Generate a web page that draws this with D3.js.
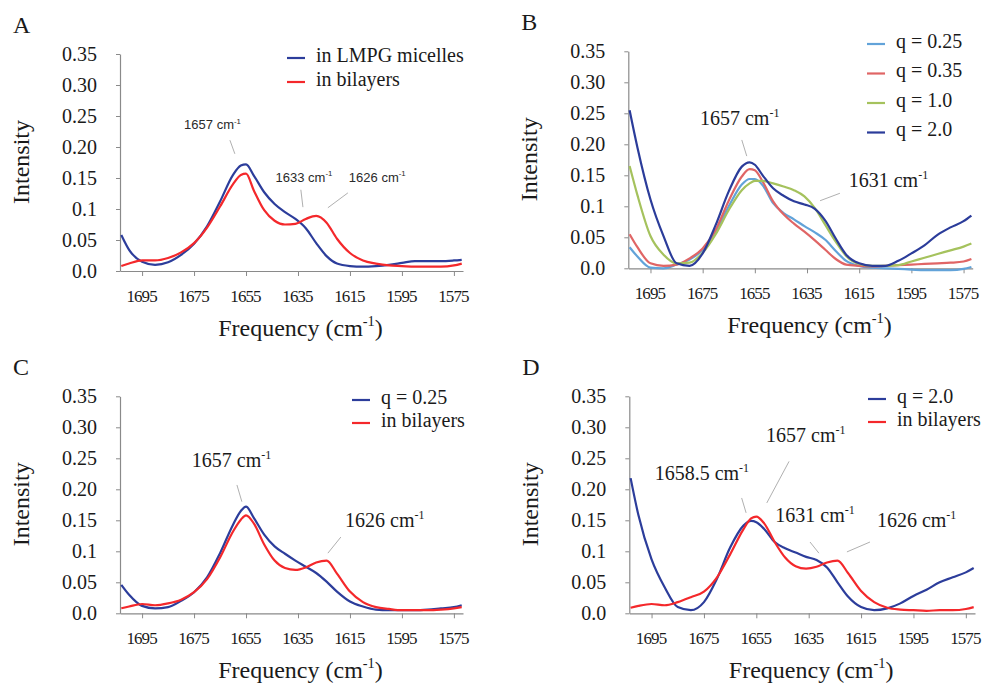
<!DOCTYPE html>
<html>
<head>
<meta charset="utf-8">
<script src="https://cdn.jsdelivr.net/npm/d3@7"></script>
<style>
  body { margin: 0; background: #fff; }
  svg { display: block; }
  svg text { font-family: 'Liberation Serif'; fill: #1a1a1a; }
  svg text.sans { font-family: 'Liberation Sans'; fill: #2a2a2a; }
  .axis path, .axis line { stroke: #8a8a8a; }
</style>
</head>
<body>
<svg width="983" height="685"></svg>
<script>
'use strict';

// wavenumber grid (cm-1) shared by all traces
const wavenumbers = [1703, 1700, 1695, 1690, 1685, 1680, 1675, 1670, 1665, 1660, 1657, 1655, 1652, 1648, 1644, 1640,
  1636, 1632, 1628, 1624, 1620, 1615, 1610, 1605, 1600, 1595, 1590, 1585, 1580, 1575, 1572];

// panel A
const a_micelles = [0.058, 0.034, 0.015, 0.010, 0.014, 0.026, 0.044, 0.072, 0.112, 0.155, 0.170, 0.172, 0.154, 0.127, 0.108, 0.095,
  0.084, 0.069, 0.045, 0.024, 0.012, 0.008, 0.007, 0.008, 0.010, 0.013, 0.016, 0.016, 0.016, 0.017, 0.018];
const a_bilayers = [0.008, 0.012, 0.017, 0.017, 0.021, 0.030, 0.045, 0.070, 0.104, 0.140, 0.155, 0.157, 0.130, 0.098, 0.081, 0.075,
  0.076, 0.084, 0.089, 0.078, 0.052, 0.029, 0.017, 0.012, 0.009, 0.008, 0.007, 0.007, 0.007, 0.009, 0.012];

// panel B
const b_q025 = [0.034, 0.019, 0.001, 0.000, 0.006, 0.014, 0.030, 0.060, 0.100, 0.135, 0.144, 0.144, 0.134, 0.105, 0.089, 0.079,
  0.068, 0.058, 0.046, 0.028, 0.012, 0.004, 0.001, 0.000, -0.001, -0.002, -0.003, -0.003, -0.003, -0.001, 0.002];
const b_q035 = [0.055, 0.034, 0.008, 0.004, 0.006, 0.016, 0.032, 0.062, 0.109, 0.148, 0.160, 0.158, 0.140, 0.108, 0.087, 0.072,
  0.059, 0.045, 0.030, 0.015, 0.006, 0.004, 0.003, 0.004, 0.005, 0.006, 0.007, 0.008, 0.009, 0.011, 0.015];
const b_q10 = [0.165, 0.118, 0.052, 0.022, 0.008, 0.009, 0.025, 0.055, 0.094, 0.126, 0.137, 0.141, 0.141, 0.137, 0.132, 0.126,
  0.116, 0.097, 0.070, 0.043, 0.020, 0.007, 0.004, 0.004, 0.005, 0.011, 0.017, 0.023, 0.029, 0.035, 0.040];
const b_q20 = [0.255, 0.195, 0.111, 0.052, 0.008, 0.004, 0.024, 0.070, 0.124, 0.164, 0.171, 0.167, 0.150, 0.129, 0.117, 0.108,
  0.103, 0.096, 0.077, 0.048, 0.022, 0.008, 0.004, 0.004, 0.012, 0.024, 0.037, 0.054, 0.066, 0.076, 0.085];

// panel C
const c_q025 = [0.046, 0.030, 0.012, 0.008, 0.010, 0.020, 0.034, 0.058, 0.097, 0.143, 0.165, 0.172, 0.154, 0.127, 0.108, 0.096,
  0.085, 0.075, 0.065, 0.051, 0.035, 0.019, 0.011, 0.006, 0.005, 0.005, 0.005, 0.006, 0.008, 0.010, 0.013];
const c_bilayers = [0.008, 0.011, 0.015, 0.013, 0.016, 0.022, 0.034, 0.055, 0.090, 0.132, 0.151, 0.158, 0.145, 0.111, 0.085, 0.073,
  0.070, 0.074, 0.082, 0.085, 0.064, 0.035, 0.018, 0.010, 0.007, 0.005, 0.005, 0.005, 0.006, 0.008, 0.010];

// panel D
const d_q20 = [0.218, 0.158, 0.087, 0.042, 0.010, 0.005, 0.018, 0.056, 0.106, 0.141, 0.149, 0.147, 0.136, 0.115, 0.105, 0.098,
  0.091, 0.086, 0.074, 0.050, 0.027, 0.010, 0.005, 0.008, 0.016, 0.028, 0.038, 0.050, 0.058, 0.066, 0.073];
const d_bilayers = [0.009, 0.012, 0.015, 0.013, 0.018, 0.026, 0.035, 0.058, 0.095, 0.135, 0.153, 0.156, 0.145, 0.115, 0.090, 0.076,
  0.072, 0.075, 0.082, 0.085, 0.065, 0.036, 0.018, 0.009, 0.006, 0.005, 0.004, 0.005, 0.005, 0.007, 0.010];

// axes
const x_ticks = [1695, 1675, 1655, 1635, 1615, 1595, 1575];
const y_ticks = [0, 0.05, 0.1, 0.15, 0.2, 0.25, 0.3, 0.35];
const y_tick_labels = ['0.0', '0.05', '0.1', '0.15', '0.20', '0.25', '0.30', '0.35'];

// peak labels: text, label anchor (cm-1, intensity), leader line from/to
const a_notes = [
  {label: '1657', at: [1667.9, 0.229], lead: [1661.2, 0.211, 1659.3, 0.189]},
  {label: '1633', at: [1632.7, 0.144], lead: [1633.9, 0.131, 1633.1, 0.103]},
  {label: '1626', at: [1604.5, 0.144], lead: [1615.8, 0.126, 1623.5, 0.102]}
];
const b_notes = [
  {label: '1657', at: [1660.8, 0.231], lead: [1660.0, 0.207, 1658.1, 0.181]},
  {label: '1631', at: [1603.8, 0.131], lead: [1622.4, 0.121, 1630.0, 0.109]}
];
const c_notes = [
  {label: '1657', at: [1660.6, 0.236], lead: [1658.5, 0.207, 1656.6, 0.180]},
  {label: '1626', at: [1601.6, 0.139], lead: [1618.5, 0.123, 1623.5, 0.097]}
];
const d_notes = [
  {label: '1658.5', at: [1675.8, 0.215], lead: [1660.6, 0.186, 1658.9, 0.162]},
  {label: '1657', at: [1636.1, 0.276], lead: [1642.5, 0.245, 1651.0, 0.178]},
  {label: '1631', at: [1632.6, 0.147], lead: [1634.5, 0.115, 1631.1, 0.097]},
  {label: '1626', at: [1593.8, 0.139], lead: [1611.6, 0.115, 1620.4, 0.099]}
];

const blue = '#2c3d9b', red = '#f4282b';

const panels = [
  {letter: 'A', left: 120, right: 463, bottom: 271,
   series: [{name: 'in LMPG micelles', values: a_micelles, color: blue},
            {name: 'in bilayers', values: a_bilayers, color: red}],
   legend: {x: 287, y: 58, step: 24}, notes: a_notes, note_sans: true},
  {letter: 'B', left: 628.3, right: 972.7, bottom: 268.3,
   series: [{name: 'q = 0.25', values: b_q025, color: '#62a3d9'},
            {name: 'q = 0.35', values: b_q035, color: '#e06565'},
            {name: 'q = 1.0', values: b_q10, color: '#a5c25d'},
            {name: 'q = 2.0', values: b_q20, color: '#2b3c9a'}],
   legend: {x: 867, y: 44, step: 29.5}, notes: b_notes},
  {letter: 'C', left: 120, right: 463, bottom: 613.3,
   series: [{name: 'q = 0.25', values: c_q025, color: blue},
            {name: 'in bilayers', values: c_bilayers, color: red}],
   legend: {x: 352, y: 400, step: 23}, notes: c_notes},
  {letter: 'D', left: 629.3, right: 975, bottom: 613.3,
   series: [{name: 'q = 2.0', values: d_q20, color: blue},
            {name: 'in bilayers', values: d_bilayers, color: red}],
   legend: {x: 868, y: 399, step: 23}, notes: d_notes}
];

const svg = d3.select('svg');

//text followed by a small superscript -1 (and an optional tail)
const cm_text = (sel, head, size, tail) => {
  sel.append('tspan').text(head);
  sel.append('tspan').attr('dy', -size * 0.42).attr('font-size', size * 0.6).text('-1');
  if (tail) sel.append('tspan').attr('dy', size * 0.42).text(tail);
};

panels.forEach(p => {
  const x = d3.scaleLinear().domain([1703.5, 1571.5]).range([p.left, p.right]);
  const y = d3.scaleLinear().domain([0, 0.35]).range([p.bottom, p.bottom - 217]);
  const g = svg.append('g');

  //axes
  g.append('g').attr('class', 'axis')
    .attr('transform', `translate(0,${p.bottom})`)
    .call(d3.axisBottom(x).tickValues(x_ticks).tickFormat(d3.format('d')).tickSizeInner(5).tickSizeOuter(0).tickPadding(14))
    .call(a => a.selectAll('text').attr('font-size', 17).attr('letter-spacing', -0.9).attr('dx', -1));
  g.append('g').attr('class', 'axis')
    .attr('transform', `translate(${p.left},0)`)
    .call(d3.axisLeft(y).tickValues(y_ticks).tickFormat((d, i) => y_tick_labels[i]).tickSizeInner(4).tickSizeOuter(0).tickPadding(19))
    .call(a => a.selectAll('text').attr('font-size', 20));
  g.selectAll('.axis .domain').attr('stroke-width', 1.2);

  //curves
  const line = d3.line()
    .x((d, i) => x(wavenumbers[i]))
    .y(d => y(d))
    .curve(d3.curveMonotoneX);
  g.selectAll('path.trace').data(p.series).enter()
    .append('path')
      .attr('class', 'trace')
      .attr('fill', 'none')
      .attr('stroke', d => d.color)
      .attr('stroke-width', 2.2)
      .attr('d', d => line(d.values));

  //peak labels
  const notes = g.selectAll('g.note').data(p.notes).enter().append('g').attr('class', 'note');
  notes.append('line')
    .attr('x1', d => x(d.lead[0])).attr('y1', d => y(d.lead[1]))
    .attr('x2', d => x(d.lead[2])).attr('y2', d => y(d.lead[3]))
    .attr('stroke', '#b0b0b0').attr('stroke-width', 1);
  const fs = p.note_sans ? 13 : 20;
  notes.append('text')
    .attr('class', p.note_sans ? 'sans' : null)
    .attr('x', d => x(d.at[0])).attr('y', d => y(d.at[1]))
    .attr('text-anchor', 'middle')
    .attr('font-size', fs)
    .each(function(d) { cm_text(d3.select(this), d.label + ' cm', fs); });

  //legend
  const leg = g.selectAll('g.leg').data(p.series).enter()
    .append('g').attr('class', 'leg')
    .attr('transform', (d, i) => `translate(${p.legend.x},${p.legend.y + i * p.legend.step})`);
  leg.append('line').attr('x1', 0).attr('x2', 18)
    .attr('stroke', d => d.color).attr('stroke-width', 2.2);
  leg.append('text').attr('x', 29).attr('y', 3.5)
    .attr('font-size', 20)
    .text(d => d.name);

  //axis titles and panel letter
  const fx = g.append('text')
    .attr('x', (p.left + p.right) / 2 + 9).attr('y', p.bottom + 65)
    .attr('text-anchor', 'middle').attr('font-size', 24);
  cm_text(fx, 'Frequency (cm', 24, ')');
  g.append('text')
    .attr('transform', `translate(${p.left - 91},${p.bottom - 109}) rotate(-90)`)
    .attr('text-anchor', 'middle').attr('font-size', 24)
    .text('Intensity');
  g.append('text')
    .attr('x', p.left - 107).attr('y', p.bottom - 238)
    .attr('font-size', 24)
    .text(p.letter);
});
</script>
</body>
</html>
